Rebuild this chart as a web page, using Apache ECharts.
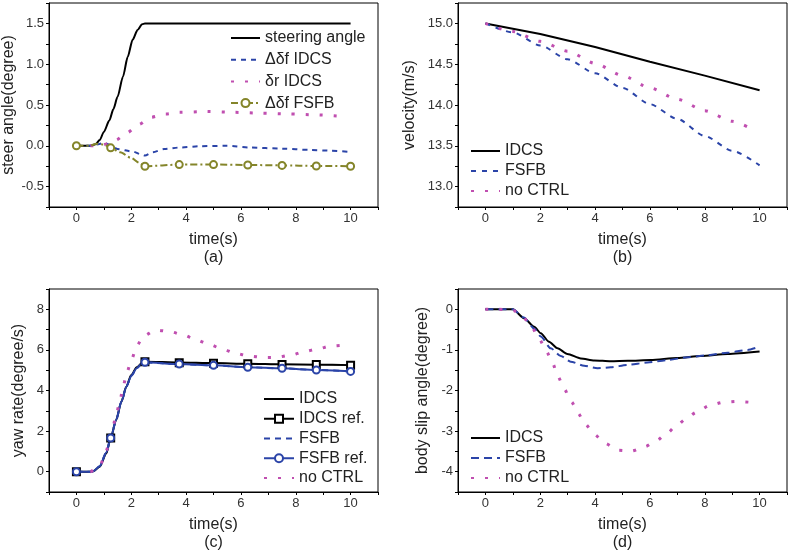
<!DOCTYPE html>
<html><head><meta charset="utf-8">
<script src="https://cdn.jsdelivr.net/npm/echarts@6/dist/echarts.min.js"></script>
<style>html,body{margin:0;padding:0;background:#fff}#c{width:791px;height:554px}</style>
</head><body><div id="c"></div>
<script>
// ---------- data (time s, value) ----------
// (a) steer angle
const steerAngle = [[0,0],[0.5,0],[0.7,0.02],[0.85,0.07],[1.0,0.17],[1.2,0.31],[1.35,0.45],[1.5,0.6],[1.7,0.85],[1.87,1.09],[2.05,1.3],[2.23,1.42],[2.4,1.49],[2.5,1.5],[10,1.5]];
const dfIDCS = [[0,0],[0.5,0],[0.8,0.02],[1.0,0.035],[1.25,0.01],[1.5,-0.04],[2.05,-0.07],[2.4,-0.11],[2.5,-0.12],[2.77,-0.08],[3.2,-0.04],[3.8,-0.02],[4.5,-0.005],[5.5,0],[6.3,-0.02],[7.5,-0.035],[8.5,-0.05],[9.3,-0.06],[10,-0.075]];
const drIDCS = [[0,0],[0.5,0],[0.95,0.01],[1.2,0.03],[1.44,0.07],[1.85,0.16],[2.27,0.26],[2.72,0.35],[3.26,0.39],[3.75,0.41],[4.75,0.42],[5.75,0.41],[6.74,0.4],[7.74,0.39],[8.74,0.38],[9.75,0.36]];
const dfFSFB = [[0,0],[0.5,0],[0.72,0.025],[1.0,0.015],[1.25,-0.025],[1.6,-0.08],[2.0,-0.15],[2.3,-0.21],[2.5,-0.25],[3.75,-0.23],[5,-0.23],[6.25,-0.235],[7.5,-0.24],[8.75,-0.247],[10,-0.25]];
// (b) velocity
const velIDCS = [[0,15.0],[2,14.87],[4,14.71],[6,14.53],[8,14.36],[10,14.18]];
const velFSFB = [[0,15.0],[1,14.89],[2,14.73],[3,14.56],[4,14.39],[5,14.21],[6,14.01],[7,13.83],[8,13.62],[9,13.44],[10,13.26]];
const velNoCtrl = [[0,15.0],[1,14.9],[2,14.78],[3,14.66],[4,14.51],[5,14.36],[6,14.21],[7,14.07],[8,13.93],[9,13.8],[9.75,13.7]];
// (c) yaw rate
const yawIDCS = [[0,0],[0.5,0],[0.61,0.02],[0.85,0.25],[1.09,0.9],[1.25,1.66],[1.45,2.55],[1.64,3.45],[1.82,4.19],[2.0,4.76],[2.2,5.14],[2.38,5.34],[2.5,5.42],[3.75,5.38],[5,5.35],[6.25,5.32],[7.5,5.29],[8.75,5.27],[10,5.25]];
const yawIDCSref = [[0,0],[0.5,0],[0.61,0.02],[0.85,0.25],[1.09,0.9],[1.25,1.66],[1.45,2.55],[1.64,3.45],[1.82,4.19],[2.0,4.76],[2.2,5.14],[2.38,5.34],[2.5,5.42],[3.75,5.37],[5,5.34],[6.25,5.32],[7.5,5.28],[8.75,5.28],[10,5.24]];
const yawFSFB = [[0,0],[0.5,0],[0.61,0.02],[0.85,0.27],[1.09,0.95],[1.25,1.66],[1.45,2.55],[1.64,3.45],[1.82,4.19],[2.0,4.72],[2.2,5.1],[2.38,5.3],[2.5,5.38],[3.75,5.3],[5,5.24],[6.25,5.15],[7.5,5.09],[8.75,5.01],[10,4.94]];
const yawFSFBref = [[0,0],[0.5,0],[0.61,0.02],[0.85,0.27],[1.09,0.95],[1.25,1.66],[1.45,2.55],[1.64,3.45],[1.82,4.19],[2.0,4.72],[2.2,5.1],[2.38,5.3],[2.5,5.39],[3.75,5.3],[5,5.24],[6.25,5.14],[7.5,5.09],[8.75,5.01],[10,4.94]];
const yawNoCtrl = [[0,0],[0.5,0],[0.87,0.33],[1.06,0.94],[1.24,1.59],[1.47,2.91],[1.6,3.58],[1.71,4.24],[1.84,4.89],[2.01,5.53],[2.2,6.19],[2.44,6.68],[2.9,6.98],[3.41,6.9],[3.91,6.73],[4.38,6.49],[4.84,6.27],[5.33,6.04],[5.79,5.83],[6.3,5.7],[6.81,5.63],[7.29,5.63],[7.82,5.74],[8.3,5.91],[8.79,6.04],[9.27,6.19],[9.78,6.24]];
// (d) body slip angle
const slipIDCS = [[0,0],[1.0,0],[1.41,-0.22],[1.78,-0.43],[2.02,-0.59],[2.32,-0.8],[2.63,-0.96],[2.99,-1.1],[3.48,-1.21],[3.97,-1.26],[4.57,-1.28],[5.2,-1.27],[6.03,-1.25],[7.0,-1.2],[7.86,-1.15],[8.83,-1.1],[10,-1.04]];
const slipFSFB = [[0,0],[1.0,0],[1.4,-0.2],[1.78,-0.47],[2.02,-0.67],[2.38,-0.96],[2.75,-1.15],[3.11,-1.29],[3.6,-1.39],[4.09,-1.45],[4.57,-1.43],[5.18,-1.37],[5.91,-1.31],[6.64,-1.25],[7.37,-1.18],[8.1,-1.13],[8.83,-1.07],[9.56,-1.0],[9.9,-0.94]];
const slipNoCtrl = [[0,0],[0.5,0],[1.02,-0.03],[1.36,-0.18],[1.68,-0.43],[1.97,-0.74],[2.23,-1.04],[2.45,-1.33],[2.65,-1.66],[2.87,-1.96],[3.14,-2.28],[3.38,-2.56],[3.64,-2.83],[3.97,-3.08],[4.36,-3.3],[4.84,-3.47],[5.34,-3.49],[5.83,-3.38],[6.23,-3.24],[6.61,-3.06],[6.96,-2.87],[7.34,-2.69],[7.68,-2.54],[8.18,-2.37],[8.67,-2.29],[9.17,-2.27],[9.66,-2.29]];
const markerTimes = [0,1.25,2.5,3.75,5,6.25,7.5,8.75,10];
const xTickLabels = [0,2,4,6,8,10];

// ---------- styling ----------
const FF = '"Liberation Sans", Arial, sans-serif';
const BLACK = '#000', BLUE = '#2b44a8', MAG = '#c04fb0', OLIVE = '#84852a';
const isMult = (v, s) => Math.abs(v / s - Math.round(v / s)) < 1e-6;

function xAx(gi, name) {
  return {
    type: 'value', gridIndex: gi, min: -1, max: 11, interval: 1,
    axisLine: { show: true, onZero: false, lineStyle: { color: '#000', width: 1 } },
    axisTick: { show: true, length: 3, lineStyle: { color: '#000' } },
    axisLabel: { formatter: v => xTickLabels.some(t => Math.abs(t - v) < 1e-6) ? String(Math.round(v)) : '',
                 margin: 5, fontSize: 13, color: '#333', fontFamily: FF },
    splitLine: { show: false },
    name: name, nameLocation: 'middle', nameGap: 24,
    nameTextStyle: { fontSize: 16, lineHeight: 18, color: '#222', fontFamily: FF }
  };
}
function yAx(gi, min, max, step, labStep, dec, name, gap) {
  return {
    type: 'value', gridIndex: gi, min: min, max: max, interval: step,
    axisLine: { show: true, onZero: false, lineStyle: { color: '#000', width: 1 } },
    axisTick: { show: true, length: 3, lineStyle: { color: '#000' } },
    axisLabel: { formatter: v => (isMult(v, labStep) && v > min + 1e-9 && v < max - 1e-9) ? v.toFixed(dec) : '',
                 margin: 5, fontSize: 13, color: '#333', fontFamily: FF },
    splitLine: { show: false },
    name: name, nameLocation: 'middle', nameGap: gap,
    nameTextStyle: { fontSize: 16, color: '#222', fontFamily: FF }
  };
}
// plain line (no markers): item opacity 0 hides the legend's default dot
function ln(name, gi, data, color, width, type, extra) {
  return Object.assign({
    name: name, type: 'line', xAxisIndex: gi, yAxisIndex: gi, data: data,
    symbol: 'none', smooth: 0.25, smoothMonotone: 'x', animation: false,
    lineStyle: { color: color, width: width, type: type, cap: 'butt' },
    itemStyle: { color: color, opacity: 0 }
  }, extra || {});
}
function marked(data) {
  return data.map(p => markerTimes.some(t => Math.abs(t - p[0]) < 1e-6) ? { value: p } : { value: p, symbol: 'none' });
}
function mk(symbol, color) {
  return { symbol: symbol, symbolSize: 7, showSymbol: true, itemStyle: { color: color, opacity: 1, borderWidth: 1 } };
}
const DOT = [3, 11];
function legend(left, top, gap, names, w) {
  return {
    data: names, orient: 'vertical', left: left, top: top, itemGap: gap,
    itemWidth: w, itemHeight: 10, selectedMode: false, padding: 0,
    formatter: n => n.replace(/#.$/, ''),
    textStyle: { fontSize: 16, color: '#222', fontFamily: FF }
  };
}

const option = {
  backgroundColor: '#fff',
  animation: false,
  grid: [
    { left: 49, top: 3, width: 329, height: 204 },
    { left: 458, top: 3, width: 329, height: 204 },
    { left: 49, top: 289, width: 329, height: 203 },
    { left: 458, top: 289, width: 329, height: 203 }
  ].map(g => Object.assign(g, { show: true, borderColor: '#000', borderWidth: 1, backgroundColor: 'transparent', outerBoundsMode: 'none' })),
  xAxis: [xAx(0, 'time(s)\n(a)'), xAx(1, 'time(s)\n(b)'), xAx(2, 'time(s)\n(c)'), xAx(3, 'time(s)\n(d)')],
  yAxis: [
    yAx(0, -0.75, 1.75, 0.25, 0.5, 1, 'steer angle(degree)', 32),
    yAx(1, 12.75, 15.25, 0.25, 0.5, 1, 'velocity(m/s)', 40),
    yAx(2, -1, 9, 1, 2, 0, 'yaw rate(degree/s)', 22),
    yAx(3, -4.5, 0.5, 0.5, 1, 0, 'body slip angle(degree)', 27)
  ],
  legend: [
    legend(230, 30, 5.7, ['steering angle', '\u0394\u03b4f IDCS', '\u03b4r IDCS', '\u0394\u03b4f FSFB'], 29),
    legend(470, 143, 4, ['IDCS#b', 'FSFB#b', 'no CTRL#b'], 29),
    legend(263, 391, 3.75, ['IDCS#c', 'IDCS ref.#c', 'FSFB#c', 'FSFB ref.#c', 'no CTRL#c'], 30),
    legend(470, 430, 4, ['IDCS#d', 'FSFB#d', 'no CTRL#d'], 29)
  ],
  series: [
    ln('steering angle', 0, steerAngle, BLACK, 2, 'solid'),
    ln('\u0394\u03b4f IDCS', 0, dfIDCS, BLUE, 2, [5, 5]),
    ln('\u03b4r IDCS', 0, drIDCS, MAG, 3, DOT),
    ln('\u0394\u03b4f FSFB', 0, marked(dfFSFB), OLIVE, 2, [7, 3, 2, 3], mk('emptyCircle', OLIVE)),

    ln('IDCS#b', 1, velIDCS, BLACK, 2, 'solid', { smooth: false }),
    ln('FSFB#b', 1, velFSFB, BLUE, 2, [5, 6]),
    ln('no CTRL#b', 1, velNoCtrl, MAG, 3, DOT),

    ln('IDCS#c', 2, yawIDCS, BLACK, 2, 'solid'),
    ln('IDCS ref.#c', 2, marked(yawIDCSref), BLACK, 1, 'solid', mk('emptyRect', BLACK)),
    ln('FSFB#c', 2, yawFSFB, BLUE, 2, [6, 5]),
    ln('FSFB ref.#c', 2, marked(yawFSFBref), BLUE, 2, 'solid', mk('emptyCircle', BLUE)),
    ln('no CTRL#c', 2, yawNoCtrl, MAG, 3, DOT),

    ln('IDCS#d', 3, slipIDCS, BLACK, 2, 'solid'),
    ln('FSFB#d', 3, slipFSFB, BLUE, 2, [8, 5]),
    ln('no CTRL#d', 3, slipNoCtrl, MAG, 3, DOT)
  ]
};
const chart = echarts.init(document.getElementById('c'), null, { renderer: 'canvas' });
chart.setOption(option);
</script></body></html>
